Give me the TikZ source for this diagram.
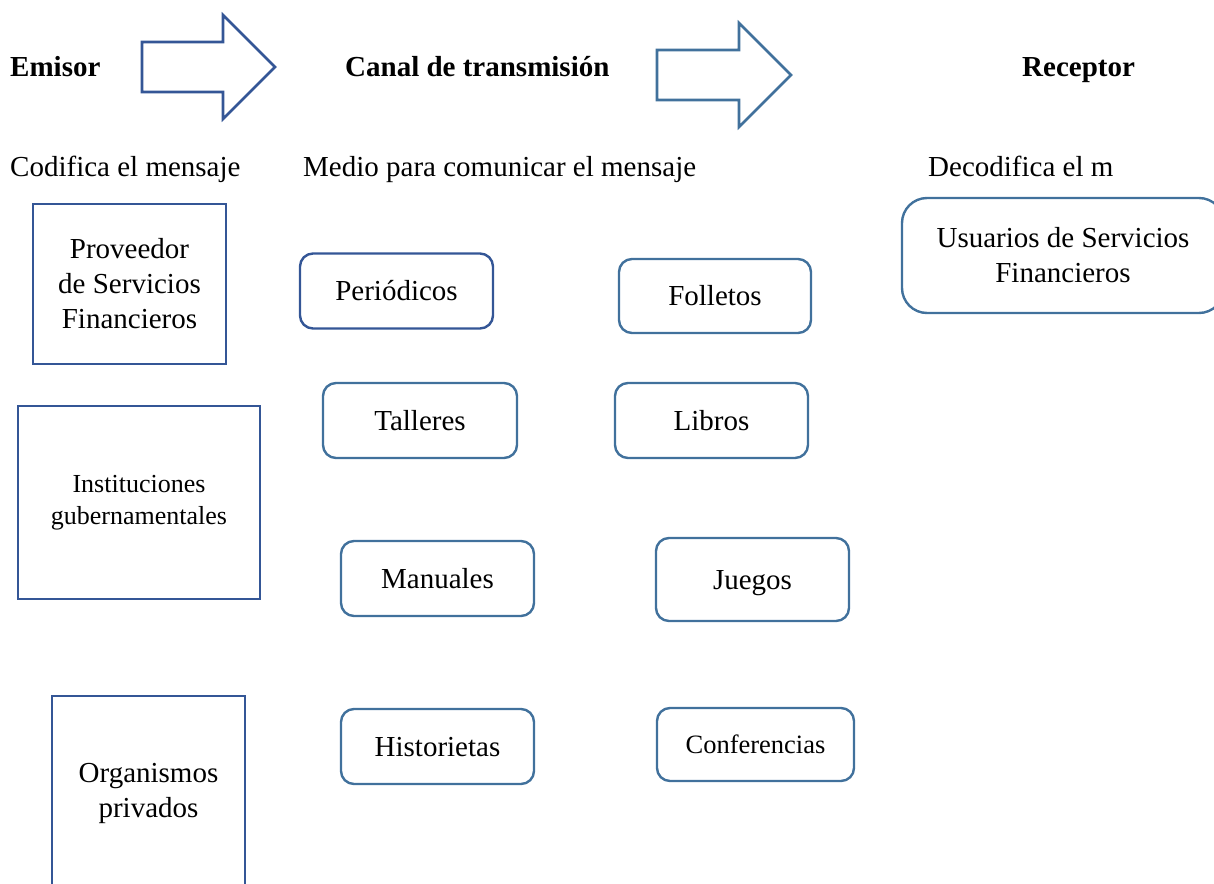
\documentclass[tikz,border=0pt]{standalone}
\usepackage{fontspec}
\setmainfont{Liberation Serif}
\definecolor{dkblue}{RGB}{52,86,150}
\definecolor{ltblue}{RGB}{65,113,156}
\newcommand{\fsz}[2]{\fontsize{#1}{#2}\selectfont}
\begin{document}
\begin{tikzpicture}[x=1pt,y=-1pt,
  lbl/.style={anchor=base west,inner sep=0pt,font=\fsz{29}{35}},
  hdr/.style={anchor=base west,inner sep=0pt,font=\fsz{29}{35}\bfseries},
  sqbox/.style={rectangle,draw=dkblue,line width=2.6pt,align=center,inner sep=0pt,font=\fsz{29}{35}},
  rbox/.style={rectangle,rounded corners=13pt,draw=ltblue,line width=2.4pt,align=center,inner sep=0pt,font=\fsz{29}{35}},
  oneline/.style={text height=26pt,text depth=7pt},
  bigarrow/.style={line width=2.6pt,line join=miter}]
\useasboundingbox (0,0) rectangle (1214,883);
\clip (0,0) rectangle (1214,883);
% headers
\node[hdr] (emisor) at (10,77) {Emisor};
\node[hdr] (canal) at (345,77) {Canal de transmisión};
\node[hdr] (receptor) at (1022,77) {Receptor};
% block arrows
\draw[bigarrow,draw=dkblue] (142,42) -- (223,42) -- (223,15) -- (275,67) -- (223,119) -- (223,92) -- (142,92) -- cycle;
\draw[bigarrow,draw=ltblue] (657,50) -- (739,50) -- (739,23) -- (791,75) -- (739,127) -- (739,100) -- (657,100) -- cycle;
% subtitles
\node[lbl] (codifica) at (10,176) {Codifica el mensaje};
\node[lbl] (medio) at (303,176) {Medio para comunicar el mensaje};
\node[lbl] (decodifica) at (928,176) {Decodifica el m};
% emisor boxes
\node[sqbox,minimum width=193pt,minimum height=160pt] (prov) at (129.5,284) {Proveedor\\de Servicios\\Financieros};
\node[sqbox,minimum width=242pt,minimum height=193pt,font=\fsz{26}{32}] (inst) at (139,502.5) {Instituciones\\gubernamentales};
\node[sqbox,minimum width=193pt,minimum height=194pt] (org) at (148.5,793) {Organismos\\privados};
% channel boxes
\node[rbox,oneline,draw=dkblue,minimum width=193pt,minimum height=75pt] (peri) at (396.5,291) {Periódicos};
\node[rbox,oneline,minimum width=192pt,minimum height=74pt] (foll) at (715,296) {Folletos};
\node[rbox,oneline,minimum width=194pt,minimum height=75pt] (tall) at (420,420.5) {Talleres};
\node[rbox,oneline,minimum width=193pt,minimum height=75pt] (libr) at (711.5,420.5) {Libros};
\node[rbox,oneline,minimum width=193pt,minimum height=75pt] (manu) at (437.5,578.5) {Manuales};
\node[rbox,oneline,minimum width=193pt,minimum height=83pt] (jueg) at (752.5,579.5) {Juegos};
\node[rbox,oneline,minimum width=193pt,minimum height=75pt] (hist) at (437.5,746.5) {Historietas};
\node[rbox,minimum width=197pt,minimum height=73pt,font=\fsz{26.5}{32},text height=24pt,text depth=6pt] (conf) at (755.5,744.5) {Conferencias};
% receptor box
\node[rbox,rounded corners=25pt,minimum width=322pt,minimum height=115pt] (usu) at (1063,255.5) {Usuarios de Servicios\\Financieros};
\end{tikzpicture}
\end{document}
